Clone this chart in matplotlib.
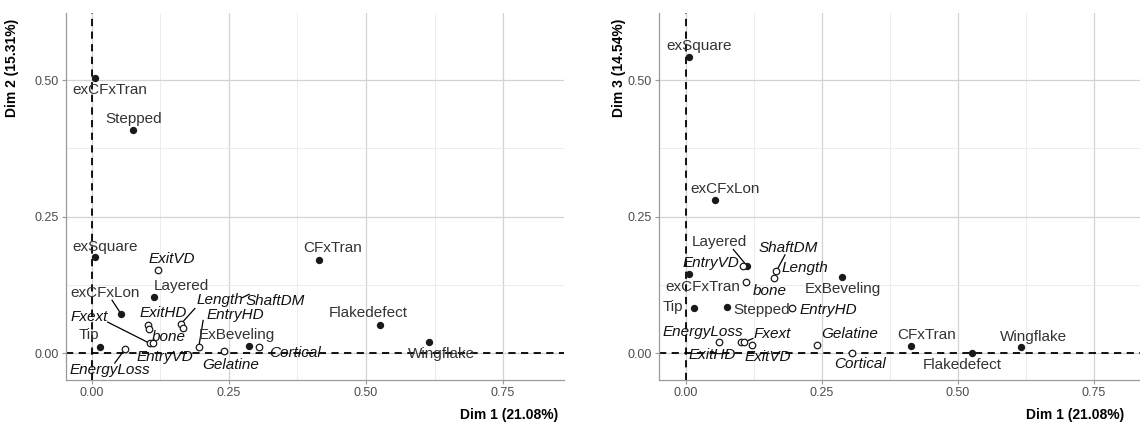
import numpy as np
import matplotlib
matplotlib.use("Agg")
import matplotlib.pyplot as plt
from matplotlib.ticker import MultipleLocator

plt.rcParams['font.family'] = ['Liberation Sans', 'DejaVu Sans']

# ---------------- data (squared correlation ratios) ----------------
act_names = ['exCFxTran', 'Stepped', 'exSquare', 'Layered', 'exCFxLon', 'Tip',
             'CFxTran', 'Flakedefect', 'Wingflake', 'ExBeveling']
act_dim1 = [0.005, 0.076, 0.005, 0.113, 0.054, 0.015, 0.414, 0.526, 0.615, 0.287]
act_dim2 = [0.504, 0.408, 0.176, 0.103, 0.071, 0.012, 0.170, 0.051, 0.020, 0.013]
act_dim3 = [0.146, 0.085, 0.542, 0.159, 0.280, 0.083, 0.013, 0.000, 0.011, 0.139]

sup_names = ['ExitVD', 'ExitHD', 'Fxext', 'bone', 'EnergyLoss', 'EntryVD',
             'Length', 'ShaftDM', 'EntryHD', 'Gelatine', 'Cortical']
sup_dim1 = [0.121, 0.102, 0.106, 0.111, 0.060, 0.105, 0.162, 0.166, 0.195, 0.241, 0.305]
sup_dim2 = [0.152, 0.051, 0.018, 0.018, 0.007, 0.044, 0.053, 0.047, 0.011, 0.004, 0.011]
sup_dim3 = [0.016, 0.021, 0.020, 0.130, 0.020, 0.159, 0.138, 0.150, 0.082, 0.015, 0.000]

# ---------------- label layout (data coords) ----------------
lab_left = {
    'exCFxTran': (0.033, 0.482), 'Stepped': (0.077, 0.429), 'exSquare': (0.024, 0.194),
    'Layered': (0.164, 0.123), 'exCFxLon': (0.024, 0.110), 'Tip': (-0.005, 0.033),
    'CFxTran': (0.440, 0.192), 'Flakedefect': (0.504, 0.073), 'Wingflake': (0.637, -0.002),
    'ExBeveling': (0.265, 0.033),
    'ExitVD': (0.146, 0.172), 'ExitHD': (0.130, 0.073), 'Fxext': (-0.004, 0.066),
    'bone': (0.141, 0.029), 'EnergyLoss': (0.033, -0.031), 'EntryVD': (0.133, -0.007),
    'Length': (0.234, 0.097), 'ShaftDM': (0.335, 0.095), 'EntryHD': (0.261, 0.070),
    'Gelatine': (0.254, -0.022), 'Cortical': (0.370, 0.000),
}
lead_left = {
    'exCFxLon': (0.037, 0.097, 1.0), 'Fxext': (0.029, 0.057, 1.0),
    'EnergyLoss': (0.042, -0.018, 1.0), 'Length': (0.188, 0.082, 1.0),
    'ShaftDM': (0.287, 0.108, 0.1), 'EntryHD': (0.203, 0.060, 1.0),
}
lab_right = {
    'exSquare': (0.024, 0.562), 'exCFxLon': (0.072, 0.300), 'Layered': (0.062, 0.203),
    'exCFxTran': (0.031, 0.121), 'Tip': (-0.024, 0.084), 'Stepped': (0.140, 0.079),
    'ExBeveling': (0.289, 0.117), 'CFxTran': (0.443, 0.033), 'Flakedefect': (0.507, -0.022),
    'Wingflake': (0.638, 0.029),
    'ShaftDM': (0.188, 0.192), 'EntryVD': (0.046, 0.165), 'Length': (0.219, 0.156),
    'bone': (0.154, 0.114), 'EntryHD': (0.261, 0.080), 'EnergyLoss': (0.031, 0.038),
    'Fxext': (0.158, 0.036), 'Gelatine': (0.301, 0.036), 'ExitHD': (0.048, -0.004),
    'ExitVD': (0.151, -0.007), 'Cortical': (0.320, -0.020),
}
lead_right = {
    'Layered': (0.087, 0.190, 1.0), 'ShaftDM': (0.182, 0.180, 1.0),
    'Fxext': (0.123, 0.027, 1.0),
}


def draw(ax, ydim_act, ydim_sup, labs, leads, xlim, ylabel):
    ax.set_xlim(*xlim)
    ax.set_ylim(-0.049, 0.623)
    ax.xaxis.set_major_locator(MultipleLocator(0.25))
    ax.yaxis.set_major_locator(MultipleLocator(0.25))
    ax.xaxis.set_minor_locator(MultipleLocator(0.125))
    ax.yaxis.set_minor_locator(MultipleLocator(0.125))
    ax.xaxis.set_major_formatter(plt.FormatStrFormatter('%.2f'))
    ax.yaxis.set_major_formatter(plt.FormatStrFormatter('%.2f'))
    ax.grid(which='major', color='#d3d3d3', lw=0.9)
    ax.grid(which='minor', color='#e9e9e9', lw=0.6)
    ax.set_axisbelow(True)
    for s in ['top', 'right']:
        ax.spines[s].set_visible(False)
    for s in ['left', 'bottom']:
        ax.spines[s].set_color('#9a9a9a')
        ax.spines[s].set_linewidth(0.9)
    ax.tick_params(which='major', length=3, color='#9a9a9a', labelsize=9,
                   labelcolor='#4d4d4d', pad=2)
    ax.tick_params(which='minor', length=0)
    ax.axhline(0, color='black', lw=1.3, ls=(0, (4, 3)), zorder=2)
    ax.axvline(0, color='black', lw=1.3, ls=(0, (4, 3)), zorder=2)

    pts = {}
    for n, x, y in zip(act_names, act_dim1, ydim_act):
        pts[n] = (x, y)
    for n, x, y in zip(sup_names, sup_dim1, ydim_sup):
        pts[n] = (x, y)

    # leader segments
    for n, (x0, y0, frac) in leads.items():
        x1, y1 = pts[n]
        x1 = x0 + (x1 - x0) * frac
        y1 = y0 + (y1 - y0) * frac
        ax.plot([x0, x1], [y0, y1], color='black', lw=0.9, zorder=3)

    ax.scatter(act_dim1, ydim_act, s=28, color='#1a1a1a', zorder=4, linewidths=0)
    ax.scatter(sup_dim1, ydim_sup, s=22, facecolor='white', edgecolor='#1a1a1a',
               linewidths=0.9, zorder=4)

    for n in act_names:
        x, y = labs[n]
        ax.text(x, y, n, fontsize=11, color='#333333', ha='center', va='center', zorder=5)
    for n in sup_names:
        x, y = labs[n]
        ax.text(x, y, n, fontsize=11, color='#111111', style='italic',
                ha='center', va='center', zorder=5)

    ax.set_xlabel('Dim 1 (21.08%)', fontsize=10, fontweight='bold', ha='right')
    ax.set_ylabel(ylabel, fontsize=10, fontweight='bold', ha='right')


fig = plt.figure(figsize=(11.4, 4.23), dpi=100)
ax1 = fig.add_axes([66 / 1140, 43 / 423, 498 / 1140, 367 / 423])
ax2 = fig.add_axes([659 / 1140, 43 / 423, 481 / 1140, 367 / 423])

draw(ax1, act_dim2, sup_dim2, lab_left, lead_left, (-0.047, 0.861), 'Dim 2 (15.31%)')
draw(ax2, act_dim3, sup_dim3, lab_right, lead_right, (-0.0496, 0.8346), 'Dim 3 (14.54%)')

ax1.xaxis.set_label_coords(492 / 498, -0.075)
ax1.yaxis.set_label_coords(-0.094, 0.985)
ax2.xaxis.set_label_coords(465 / 481, -0.075)
ax2.yaxis.set_label_coords(-0.068, 0.985)

fig.savefig('out.png', dpi=100, facecolor='white')
